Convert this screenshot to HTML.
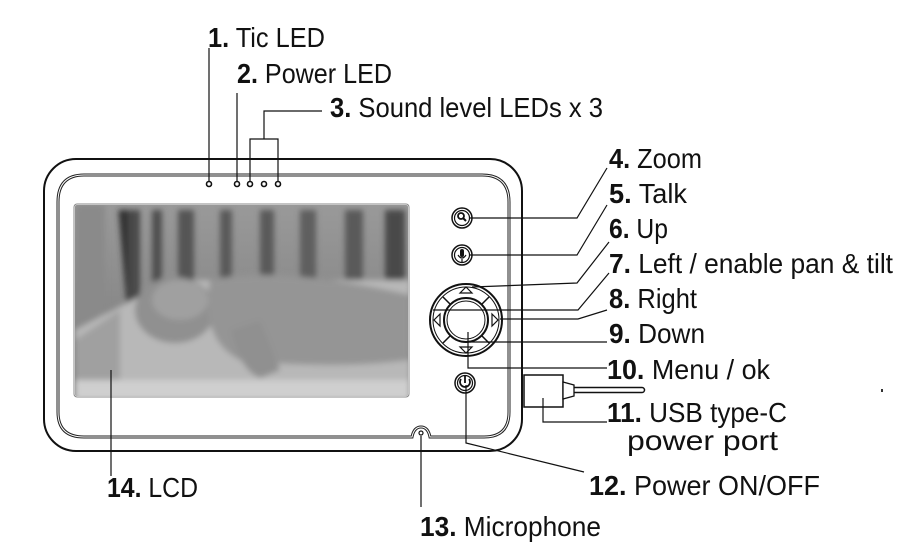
<!DOCTYPE html>
<html><head><meta charset="utf-8"><style>
html,body{margin:0;padding:0;background:#fff;}
svg{display:block;}
text{font-family:"Liberation Sans Narrow","Liberation Sans",sans-serif;font-size:28px;fill:#111;}
.b{font-weight:bold;}
</style></head><body>
<svg width="903" height="550" viewBox="0 0 903 550" xmlns="http://www.w3.org/2000/svg">
<defs>
<filter id="bl"><feGaussianBlur stdDeviation="3"/></filter>
<clipPath id="lc"><rect x="75" y="205" width="333" height="191" rx="2"/></clipPath>
<linearGradient id="bg" x1="0" y1="0" x2="0" y2="1"><stop offset="0" stop-color="#9a9a9a"/><stop offset="1" stop-color="#7a7a7a"/></linearGradient>
</defs>
<rect x="44" y="159" width="478" height="292" rx="32" fill="none" stroke="#111" stroke-width="2"/>
<path d="M84 175 H482 Q509 175 509 202 V412 Q509 437 484 437 H430 Q428 427 421 427 Q414 427 412 437 H84 Q58 437 58 412 V202 Q58 175 84 175 Z" fill="none" stroke="#222" stroke-width="3"/>
<path d="M84 175 H482 Q509 175 509 202 V412 Q509 437 484 437 H430 Q428 427 421 427 Q414 427 412 437 H84 Q58 437 58 412 V202 Q58 175 84 175 Z" fill="none" stroke="#fff" stroke-width="1"/>
<circle cx="421" cy="433" r="2" fill="none" stroke="#111" stroke-width="1.2"/>
<rect x="74" y="204" width="335" height="193" rx="3" fill="none" stroke="#888" stroke-width="1"/>
<g clip-path="url(#lc)">
<rect x="70" y="200" width="345" height="200" fill="url(#bg)"/>
<g filter="url(#bl)">
<rect x="75" y="205" width="30" height="140" fill="#8a8a8a"/>
<rect x="100" y="210" width="14" height="150" fill="#333" transform="skewX(5)"/>
<rect x="128" y="210" width="12" height="140" fill="#4a4a4a"/>
<rect x="152" y="210" width="10" height="120" fill="#505050"/>
<rect x="178" y="210" width="16" height="90" fill="#555"/>
<rect x="220" y="210" width="12" height="70" fill="#5a5a5a"/>
<rect x="260" y="210" width="14" height="70" fill="#5a5a5a"/>
<rect x="300" y="210" width="16" height="75" fill="#5e5e5e"/>
<rect x="345" y="210" width="18" height="70" fill="#5a5a5a"/>
<rect x="385" y="210" width="20" height="80" fill="#4a4a4a"/>
<path d="M75 330 L170 280 L410 280 L410 400 L75 400 Z" fill="#b8b8b8"/>
<path d="M75 340 L120 310 L120 400 L75 400Z" fill="#a0a0a0"/>
<ellipse cx="175" cy="310" rx="40" ry="33" fill="#909090"/>
<ellipse cx="180" cy="300" rx="28" ry="20" fill="#a0a0a0"/>
<path d="M210 280 Q280 265 410 295 L410 360 Q330 370 240 360 Q200 340 210 280Z" fill="#959595"/>
<path d="M230 330 Q240 370 260 378 L280 370 Q270 340 260 320Z" fill="#909090"/>
<rect x="75" y="380" width="335" height="20" fill="#cfcfcf"/>
</g>
</g>
<g fill="#fff" stroke="#111" stroke-width="1.6">
<circle cx="209" cy="184" r="2.5"/><circle cx="237" cy="184" r="2.5"/><circle cx="250" cy="184" r="2.5"/><circle cx="264" cy="184" r="2.5"/><circle cx="278" cy="184" r="2.5"/>
</g>
<g fill="#fff" stroke="#111">
<circle cx="462" cy="218" r="10" stroke-width="1.5"/><circle cx="462" cy="218" r="7.5" stroke-width="1.2"/>
<circle cx="462" cy="255" r="10" stroke-width="1.5"/><circle cx="462" cy="255" r="7.5" stroke-width="1.2"/>
<circle cx="465" cy="383" r="10" stroke-width="1.5"/><circle cx="465" cy="383" r="7.5" stroke-width="1.2"/>
</g>
<circle cx="461" cy="216" r="3" fill="none" stroke="#111" stroke-width="1.8"/><line x1="463" y1="218" x2="466" y2="221" stroke="#111" stroke-width="2"/>
<rect x="460" y="249" width="4" height="8" rx="2" fill="#111"/><path d="M458 255 Q462 261 466 255 M462 259 V262" stroke="#111" fill="none" stroke-width="1.2"/>
<path d="M461 379 A5 5 0 1 0 469 379" stroke="#111" fill="none" stroke-width="1.8"/><line x1="465" y1="376" x2="465" y2="383" stroke="#111" stroke-width="1.8"/>
<circle cx="466" cy="320" r="36" fill="#fff" stroke="#111" stroke-width="2"/>
<circle cx="466" cy="320" r="33" fill="none" stroke="#111" stroke-width="1"/>
<circle cx="466" cy="320" r="22" fill="#fff" stroke="#111" stroke-width="2"/>
<circle cx="466" cy="320" r="19" fill="none" stroke="#111" stroke-width="1"/>
<g stroke="#111" stroke-width="1.5"><line x1="450" y1="304" x2="443" y2="297"/><line x1="482" y1="304" x2="489" y2="297"/><line x1="450" y1="336" x2="443" y2="343"/><line x1="482" y1="336" x2="489" y2="343"/></g>
<g fill="#fff" stroke="#111" stroke-width="1.2">
<path d="M460 293 L466 287 L472 293Z"/><path d="M460 347 L466 353 L472 347Z"/><path d="M440 314 L434 320 L440 326Z"/><path d="M492 314 L498 320 L492 326Z"/>
</g>
<rect x="524" y="375" width="39" height="32" fill="#fff" stroke="#111" stroke-width="1.5"/>
<path d="M563 382 L574 385 L574 396 L563 399Z" fill="#fff" stroke="#111" stroke-width="1.3"/>
<path d="M574 387.5 H642 M574 392.5 H642" stroke="#111" stroke-width="1.5"/>
<path d="M642 387.5 A2.5 2.5 0 0 1 642 392.5" stroke="#111" fill="none" stroke-width="1.5"/>
<g stroke="#111" stroke-width="1.2" fill="none">
<path d="M209 181 V48"/>
<path d="M237 181 V93"/>
<path d="M250 181 V139 H278 V181 M264 139 V111 H322"/>
<path d="M470 218 H577 L607 168"/>
<path d="M470 255 H577 L607 205"/>
<path d="M472 287 L577 283 L609 242"/>
<path d="M433 310 H578 L609 273"/>
<path d="M500 319 H578 L607 310"/>
<path d="M470 342 H607"/>
<path d="M468 332 V368 H607"/>
<path d="M543 398 V422 H607"/>
<path d="M466 385 V443 L584 472"/>
<path d="M421 436 V507"/>
<path d="M111 370 V476"/>
</g>
<text x="208" y="47" textLength="117" lengthAdjust="spacingAndGlyphs"><tspan class="b">1.</tspan> Tic LED</text>
<text x="237" y="83" textLength="155" lengthAdjust="spacingAndGlyphs"><tspan class="b">2.</tspan> Power LED</text>
<text x="330" y="117" textLength="273" lengthAdjust="spacingAndGlyphs"><tspan class="b">3.</tspan> Sound level LEDs x 3</text>
<text x="609" y="168" textLength="93" lengthAdjust="spacingAndGlyphs"><tspan class="b">4.</tspan> Zoom</text>
<text x="609" y="203" textLength="78" lengthAdjust="spacingAndGlyphs"><tspan class="b">5.</tspan> Talk</text>
<text x="609" y="238" textLength="59" lengthAdjust="spacingAndGlyphs"><tspan class="b">6.</tspan> Up</text>
<text x="609" y="273" textLength="284" lengthAdjust="spacingAndGlyphs"><tspan class="b">7.</tspan> Left / enable pan &amp; tilt</text>
<text x="609" y="308" textLength="88" lengthAdjust="spacingAndGlyphs"><tspan class="b">8.</tspan> Right</text>
<text x="609" y="343" textLength="96" lengthAdjust="spacingAndGlyphs"><tspan class="b">9.</tspan> Down</text>
<text x="607" y="379" textLength="163" lengthAdjust="spacingAndGlyphs"><tspan class="b">10.</tspan> Menu / ok</text>
<text x="607" y="422" textLength="180" lengthAdjust="spacingAndGlyphs"><tspan class="b">11.</tspan> USB type-C</text>
<text x="627" y="450" textLength="151" lengthAdjust="spacingAndGlyphs">power port</text>
<text x="589" y="495" textLength="231" lengthAdjust="spacingAndGlyphs"><tspan class="b">12.</tspan> Power ON/OFF</text>
<text x="420" y="536" textLength="181" lengthAdjust="spacingAndGlyphs"><tspan class="b">13.</tspan> Microphone</text>
<text x="107" y="497" textLength="91" lengthAdjust="spacingAndGlyphs"><tspan class="b">14.</tspan> LCD</text>
<rect x="881" y="389" width="2" height="3" fill="#333"/>
</svg>
</body></html>
